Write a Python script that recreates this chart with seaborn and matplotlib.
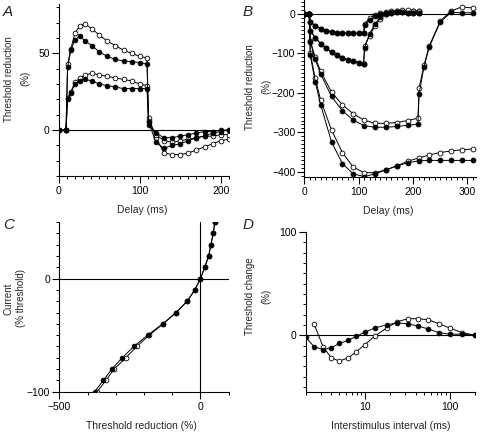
import numpy as np
import pandas as pd
import matplotlib
matplotlib.use("Agg")
import matplotlib.pyplot as plt
from matplotlib.ticker import MultipleLocator, FixedLocator, NullFormatter, FixedFormatter
import seaborn as sns

# ---------------- data ----------------
# Panel A : threshold electrotonus, depolarizing currents
delay_a = [0, 9, 11, 15, 20, 26, 33, 41, 50, 60, 70, 80, 90, 100, 109, 111,
           120, 130, 140, 150, 160, 170, 180, 190, 200, 210]
a_upper_open = [0, 0, 43, 53, 63, 68, 69, 66, 62, 58, 55, 52, 50, 48, 47, 8,
                -5, -15, -16, -16, -15, -13, -11, -9, -7, -6]
a_upper_filled = [0, 0, 41, 52, 59, 61, 58, 55, 51, 48, 46, 45, 44.5, 44, 43, 5,
                  -8, -12, -10, -9, -7, -5, -4, -2, -1, 0]
a_lower_open = [0, 0, 21, 25, 31, 34, 36, 37, 36, 35, 34, 33, 32, 30, 29, 6,
                -3, -7, -8, -7, -6, -5, -4, -4, -3, -3]
a_lower_filled = [0, 0, 20, 24, 30, 32, 33, 32, 30, 29, 28, 27, 27, 27, 27, 3,
                  -2, -5, -5, -4, -3, -2, -1, -1, 0, 0]

# Panel B : hyperpolarizing currents
delay_b_short = [0, 9, 11, 20, 30, 40, 50, 60, 70, 80, 90, 100, 109, 111,
                 120, 130, 140, 150, 160, 170, 180, 190, 200, 210]
b1_filled = [0, 0, -20, -30, -37, -42, -45, -47, -48, -49, -49, -49, -49, -28,
             -15, -5, 0, 2, 3, 4, 4, 3, 3, 2]
b1_open = [0, 0, -20, -30, -37, -42, -45, -47, -48, -49, -49, -49, -49, -25,
           -10, -2, 2, 5, 7, 8, 8, 8, 7, 7]
b2_filled = [0, 0, -42, -60, -75, -87, -97, -105, -111, -116, -120, -123, -126, -85,
             -50, -25, -8, 0, 3, 4, 4, 3, 3, 2]
b2_open = [0, 0, -42, -60, -75, -87, -97, -105, -111, -116, -120, -123, -126, -80,
           -55, -30, -12, 0, 5, 8, 9, 9, 8, 8]
delay_b_mid = [0, 9, 11, 20, 30, 50, 70, 90, 110, 130, 150, 170, 190, 209, 211,
               220, 230, 250, 270, 290, 310]
b3_filled = [0, 0, -70, -115, -152, -209, -245, -269, -283, -287, -287, -285, -282,
             -279, -203, -134, -83, -20, 4, 3, 3]
b3_open = [0, 0, -68, -110, -145, -198, -230, -253, -269, -277, -277, -275, -270,
           -264, -188, -130, -80, -18, 8, 18, 15]
delay_b_long = [0, 9, 11, 20, 30, 50, 70, 90, 110, 130, 150, 170, 190, 210, 230,
                250, 270, 290, 310]
b4_filled = [0, 0, -105, -172, -230, -324, -379, -405, -412, -405, -395, -385, -377,
             -372, -371, -371, -371, -371, -371]
b4_open = [0, 0, -100, -163, -218, -294, -351, -388, -402, -402, -395, -385, -373,
           -365, -357, -351, -347, -344, -342]

# Panel C : current-threshold relationship
current_c = [50, 40, 30, 20, 10, 0, -10, -20, -30, -40, -50, -60, -70, -80, -90, -100]
c_filled = [51, 45, 37, 29, 15, 0, -20, -47, -86, -134, -187, -236, -277, -314, -344, -375]
c_open = [51, 45, 37, 29, 15, 0, -20, -47, -86, -132, -181, -226, -264, -306, -335, -366]

# Panel D : recovery cycle
isi_filled = [2, 2.5, 3.2, 4, 5, 6.3, 7.9, 10, 13, 18, 24, 32, 42, 56, 75, 100, 140, 200]
d_filled = [-2, -11, -14, -12, -8, -5, -1, 3, 7, 10, 12, 11, 9, 6, 2.5, 1, 1, 0]
isi_open = [2.5, 3.2, 4, 5, 6.3, 7.9, 10, 13, 18, 24, 32, 42, 56, 75, 100, 140, 200]
d_open = [11, -11, -22, -25, -22, -16, -9, -1, 7, 13, 16, 16, 15, 11, 7, 2.5, 0]

# ---------------- style ----------------
sns.set_style("ticks")
plt.rcParams["font.family"] = ["Liberation Sans", "DejaVu Sans"]
FS = 7.5
FSY = 7
plt.rcParams["font.size"] = FS

fig = plt.figure(figsize=(4.8, 4.32), dpi=100)

LW = 0.7


def series(ax, x, y, filled, ms=3.4):
    sns.lineplot(x=x, y=y, ax=ax, sort=False, estimator=None, color="black",
                 lw=LW, marker="o", markersize=ms,
                 markerfacecolor="black" if filled else "white",
                 markeredgecolor="black", markeredgewidth=0.6, zorder=3)


def style_axes(ax):
    sns.despine(ax=ax)
    for s in ("left", "bottom"):
        ax.spines[s].set_linewidth(0.8)
        ax.spines[s].set_color("black")
    ax.tick_params(which="major", direction="out", length=5, width=0.8,
                   pad=1.5, labelsize=FS, colors="black")
    ax.tick_params(which="minor", direction="out", length=2.5, width=0.7,
                   colors="black")
    ax.tick_params(axis="x", which="major", pad=2.5)


# ---- Panel A ----
axA = fig.add_axes([0.1223, 0.5926, 0.3544, 0.3975])
axA.axhline(0, color="black", lw=0.8, zorder=1)
series(axA, delay_a, a_upper_open, False)
series(axA, delay_a, a_lower_open, False)
series(axA, delay_a, a_upper_filled, True)
series(axA, delay_a, a_lower_filled, True)
axA.set_xlim(0, 210)
axA.set_ylim(-30, 82)
axA.xaxis.set_major_locator(FixedLocator([0, 100, 200]))
axA.xaxis.set_minor_locator(MultipleLocator(10))
axA.yaxis.set_major_locator(FixedLocator([0, 50]))
axA.yaxis.set_minor_locator(MultipleLocator(10))
style_axes(axA)
axA.set_xlabel("Delay (ms)", fontsize=FS)
axA.set_ylabel("Threshold reduction\n(%)", fontsize=FSY, linespacing=1.8)
axA.xaxis.set_label_coords(0.49, -0.17)
axA.yaxis.set_label_coords(-0.165, 0.566)
fig.text(0.006, 0.962, "A", fontsize=11, style="italic")

# ---- Panel B ----
axB = fig.add_axes([0.634, 0.5903, 0.358, 0.4093])
axB.axhline(0, color="black", lw=0.8, zorder=1)
series(axB, delay_b_short, b1_open, False, 3.5)
series(axB, delay_b_short, b2_open, False, 3.5)
series(axB, delay_b_mid, b3_open, False, 3.5)
series(axB, delay_b_long, b4_open, False, 3.5)
series(axB, delay_b_short, b1_filled, True, 3.5)
series(axB, delay_b_short, b2_filled, True, 3.5)
series(axB, delay_b_mid, b3_filled, True, 3.5)
series(axB, delay_b_long, b4_filled, True, 3.5)
axB.set_xlim(0, 316)
axB.set_ylim(-413, 35)
axB.xaxis.set_major_locator(FixedLocator([0, 100, 200, 300]))
axB.xaxis.set_minor_locator(MultipleLocator(10))
axB.yaxis.set_major_locator(FixedLocator([0, -100, -200, -300, -400]))
axB.yaxis.set_minor_locator(FixedLocator(list(range(-410, 31, 10))))
style_axes(axB)
axB.set_xlabel("Delay (ms)", fontsize=FS)
axB.set_ylabel("Threshold reduction\n(%)", fontsize=FSY, linespacing=1.8)
axB.xaxis.set_label_coords(0.486, -0.165)
axB.yaxis.set_label_coords(-0.193, 0.51)
fig.text(0.505, 0.962, "B", fontsize=11, style="italic")

# ---- Panel C ----
axC = fig.add_axes([0.1235, 0.0933, 0.353, 0.3928])
axC.axhline(0, color="black", lw=0.8, zorder=1)
axC.axvline(0, color="black", lw=0.8, zorder=1)
series(axC, c_open, current_c, False)
series(axC, c_filled, current_c, True)
axC.set_xlim(-500, 100)
axC.set_ylim(-100, 50)
axC.xaxis.set_major_locator(FixedLocator([-500, 0]))
axC.xaxis.set_minor_locator(MultipleLocator(100))
axC.yaxis.set_major_locator(FixedLocator([-100, 0]))
axC.yaxis.set_minor_locator(MultipleLocator(10))
style_axes(axC)
axC.set_xlabel("Threshold reduction (%)", fontsize=FS)
axC.set_ylabel("Current\n(% threshold)", fontsize=FSY, linespacing=1.3)
axC.xaxis.set_label_coords(0.486, -0.173)
axC.yaxis.set_label_coords(-0.195, 0.55)
fig.text(0.006, 0.47, "C", fontsize=11, style="italic")

# ---- Panel D ----
axD = fig.add_axes([0.637, 0.0926, 0.353, 0.3704])
axD.axhline(0, color="black", lw=0.8, zorder=1)
series(axD, isi_open, d_open, False)
series(axD, isi_filled, d_filled, True)
axD.set_xscale("log")
axD.set_xlim(2, 200)
axD.set_ylim(-55, 100)
axD.xaxis.set_major_locator(FixedLocator([10, 100]))
axD.xaxis.set_major_formatter(FixedFormatter(["10", "100"]))
axD.xaxis.set_minor_locator(FixedLocator([2, 3, 4, 5, 6, 7, 8, 9, 20, 30, 40, 50,
                                          60, 70, 80, 90, 200]))
axD.xaxis.set_minor_formatter(NullFormatter())
axD.yaxis.set_major_locator(FixedLocator([0, 100]))
axD.yaxis.set_minor_locator(MultipleLocator(10))
style_axes(axD)
axD.set_xlabel("Interstimulus interval (ms)", fontsize=FS)
axD.set_ylabel("Threshold change\n(%)", fontsize=FSY, linespacing=1.8)
axD.xaxis.set_label_coords(0.5, -0.18)
axD.yaxis.set_label_coords(-0.205, 0.6)
fig.text(0.506, 0.47, "D", fontsize=11, style="italic")

fig.savefig("out.png", dpi=100)
